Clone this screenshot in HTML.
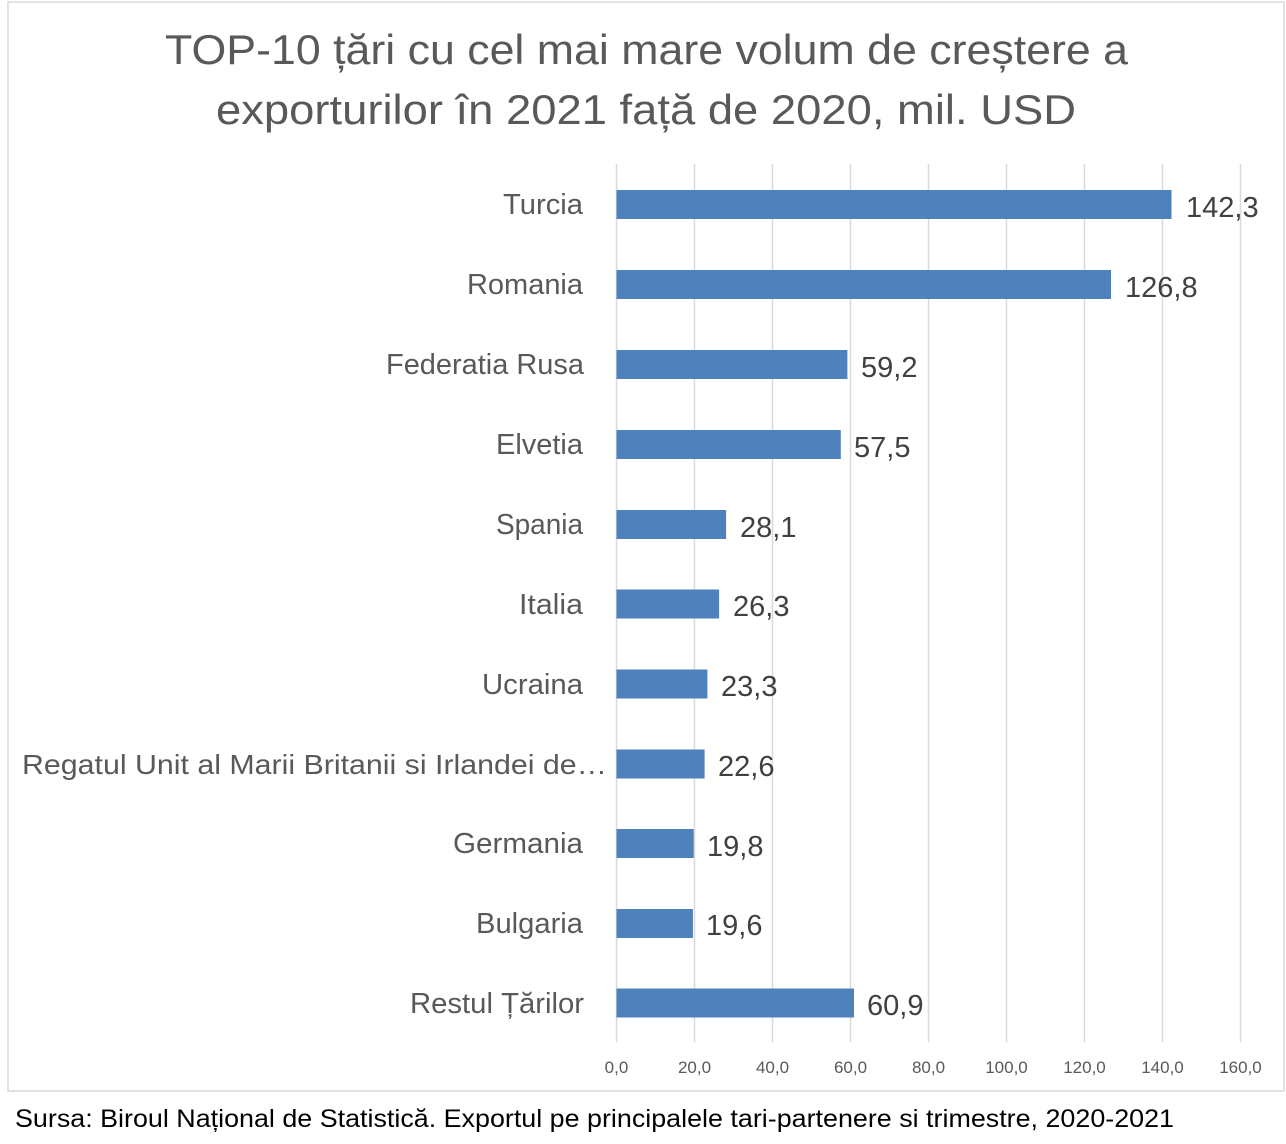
<!DOCTYPE html>
<html>
<head>
<meta charset="utf-8">
<style>
  html, body { margin: 0; padding: 0; background: #ffffff; }
  svg { display: block; }
  text { font-family: "Liberation Sans", "DejaVu Sans", sans-serif; }
</style>
</head>
<body>
<svg width="1286" height="1144" viewBox="0 0 1286 1144" xmlns="http://www.w3.org/2000/svg">
  <rect x="0" y="0" width="1286" height="1144" fill="#ffffff"/>
  <!-- chart border -->
  <rect x="8" y="2" width="1276" height="1089" fill="#ffffff" stroke="#D9D9D9" stroke-width="1.5"/>

  <!-- title -->
  <text x="165" y="64" font-size="42" fill="#595959" textLength="963" lengthAdjust="spacingAndGlyphs">TOP-10 țări cu cel mai mare volum de creștere a</text>
  <text x="216" y="124" font-size="42" fill="#595959" textLength="860" lengthAdjust="spacingAndGlyphs">exporturilor în 2021 față de 2020, mil. USD</text>

  <!-- gridlines -->
  <g stroke="#D9D9D9" stroke-width="1.5">
    <line x1="616.5" y1="164" x2="616.5" y2="1042"/>
    <line x1="694.5" y1="164" x2="694.5" y2="1042"/>
    <line x1="772.5" y1="164" x2="772.5" y2="1042"/>
    <line x1="850.5" y1="164" x2="850.5" y2="1042"/>
    <line x1="928.5" y1="164" x2="928.5" y2="1042"/>
    <line x1="1006.5" y1="164" x2="1006.5" y2="1042"/>
    <line x1="1084.5" y1="164" x2="1084.5" y2="1042"/>
    <line x1="1162.5" y1="164" x2="1162.5" y2="1042"/>
    <line x1="1240.5" y1="164" x2="1240.5" y2="1042"/>
  </g>

  <!-- tick labels -->
  <g font-size="17" fill="#595959" text-anchor="middle">
    <text x="616.5" y="1073">0,0</text>
    <text x="694.5" y="1073">20,0</text>
    <text x="772.5" y="1073">40,0</text>
    <text x="850.5" y="1073">60,0</text>
    <text x="928.5" y="1073">80,0</text>
    <text x="1006.5" y="1073">100,0</text>
    <text x="1084.5" y="1073">120,0</text>
    <text x="1162.5" y="1073">140,0</text>
    <text x="1240.5" y="1073">160,0</text>
  </g>

  <!-- bars -->
  <g fill="#4F81BD">
    <rect x="616.5" y="190" width="555" height="29"/>
    <rect x="616.5" y="270" width="494.5" height="29"/>
    <rect x="616.5" y="350" width="230.9" height="29"/>
    <rect x="616.5" y="430" width="224.3" height="29"/>
    <rect x="616.5" y="510" width="109.6" height="29"/>
    <rect x="616.5" y="589.5" width="102.6" height="29"/>
    <rect x="616.5" y="669.5" width="90.9" height="29"/>
    <rect x="616.5" y="749.5" width="88.1" height="29"/>
    <rect x="616.5" y="829" width="77.2" height="29"/>
    <rect x="616.5" y="909" width="76.4" height="29"/>
    <rect x="616.5" y="988.5" width="237.5" height="29"/>
  </g>

  <!-- category labels -->
  <g font-size="29" fill="#595959" text-anchor="end">
    <text x="583" y="214" textLength="80" lengthAdjust="spacingAndGlyphs">Turcia</text>
    <text x="583" y="294" textLength="116" lengthAdjust="spacingAndGlyphs">Romania</text>
    <text x="584" y="374" textLength="198" lengthAdjust="spacingAndGlyphs">Federatia Rusa</text>
    <text x="583" y="454" textLength="87" lengthAdjust="spacingAndGlyphs">Elvetia</text>
    <text x="583" y="534" textLength="87" lengthAdjust="spacingAndGlyphs">Spania</text>
    <text x="583" y="614" textLength="64" lengthAdjust="spacingAndGlyphs">Italia</text>
    <text x="583" y="694" textLength="101" lengthAdjust="spacingAndGlyphs">Ucraina</text>
    <text x="583" y="853" textLength="130" lengthAdjust="spacingAndGlyphs">Germania</text>
    <text x="583" y="933" textLength="107" lengthAdjust="spacingAndGlyphs">Bulgaria</text>
    <text x="584" y="1013" textLength="174" lengthAdjust="spacingAndGlyphs">Restul Țărilor</text>
  </g>
  <text x="22" y="774" font-size="28" fill="#595959" textLength="585" lengthAdjust="spacingAndGlyphs">Regatul Unit al Marii Britanii si Irlandei de…</text>

  <!-- value labels -->
  <g font-size="29" fill="#404040">
    <text x="1186" y="217">142,3</text>
    <text x="1125" y="297">126,8</text>
    <text x="861" y="377">59,2</text>
    <text x="854" y="457">57,5</text>
    <text x="740" y="537">28,1</text>
    <text x="733" y="616">26,3</text>
    <text x="721" y="696">23,3</text>
    <text x="718" y="776">22,6</text>
    <text x="707" y="856">19,8</text>
    <text x="706" y="935">19,6</text>
    <text x="867" y="1015">60,9</text>
  </g>

  <!-- source -->
  <text x="15" y="1127" font-size="25" fill="#000000" textLength="1159" lengthAdjust="spacingAndGlyphs">Sursa: Biroul Național de Statistică. Exportul pe principalele tari-partenere si trimestre, 2020-2021</text>
</svg>
</body>
</html>
